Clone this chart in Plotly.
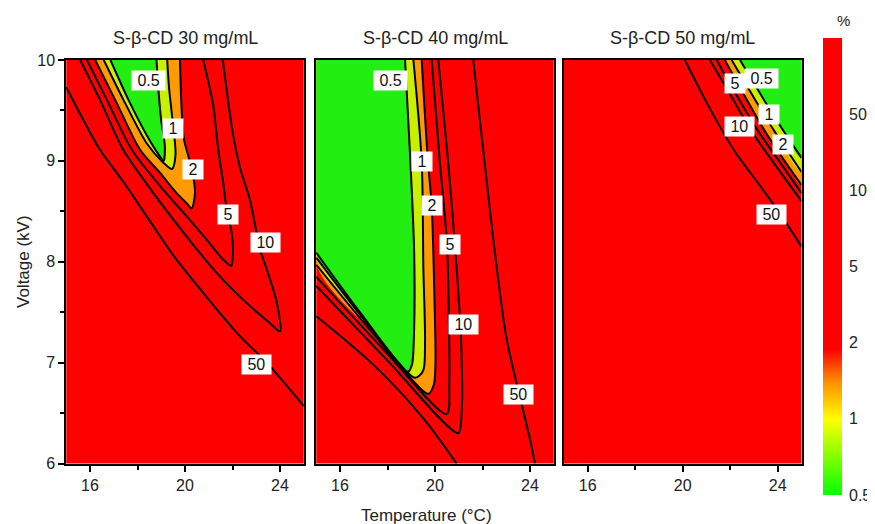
import plotly.graph_objects as go

# ---------------- data (Temperature °C, Voltage kV) ----------------
panel_titles = ["S-β-CD 30 mg/mL", "S-β-CD 40 mg/mL", "S-β-CD 50 mg/mL"]
level_labels = ["0.5", "1", "2", "5", "10", "50"]
colorbar_ticks = ["0.5", "1", "2", "5", "10", "50"]
T_RANGE = [15, 25]
V_RANGE = [6, 10]

# Panel 1 (30 mg/mL): nested tongues opening to the top edge
p1_05_T = [16.86, 17.63, 18.40, 18.90, 19.10, 19.15, 19.00, 18.90, 18.80]
p1_05_V = [10.00, 9.60, 9.25, 9.06, 9.00, 9.15, 9.40, 9.65, 10.00]
p1_1_T = [16.58, 17.42, 18.40, 19.10, 19.45, 19.60, 19.48, 19.33, 19.25]
p1_1_V = [10.00, 9.60, 9.17, 8.98, 8.92, 9.06, 9.39, 9.72, 10.00]
p1_2_T = [16.22, 17.07, 18.11, 18.95, 19.65, 20.07, 20.28, 20.42, 20.35, 20.15, 19.95, 19.85, 19.79]
p1_2_V = [10.00, 9.60, 9.11, 8.88, 8.68, 8.58, 8.53, 8.68, 8.84, 9.04, 9.22, 9.55, 10.00]
p1_5_T = [15.87, 16.72, 17.76, 18.95, 20.07, 20.91, 21.61, 21.95, 22.02, 21.97, 21.76, 21.61, 21.40, 21.19, 20.77]
p1_5_V = [10.00, 9.60, 9.11, 8.75, 8.45, 8.22, 8.02, 7.96, 8.10, 8.28, 8.51, 8.78, 9.11, 9.55, 10.00]
p1_10_T = [15.59, 16.43, 17.40, 18.67, 20.07, 21.33, 22.60, 23.58, 24.00, 23.87, 23.45, 23.16, 22.74, 22.32, 22.01, 21.59]
p1_10_V = [10.00, 9.60, 9.11, 8.68, 8.25, 7.89, 7.59, 7.39, 7.31, 7.59, 7.92, 8.12, 8.61, 8.93, 9.28, 10.00]
p1_50_T = [15.00, 16.42, 17.35, 18.53, 19.58, 20.84, 22.32, 23.44, 25.00]
p1_50_V = [9.73, 9.11, 8.81, 8.40, 8.04, 7.67, 7.26, 7.00, 6.57]
p1_label_T = [18.46, 19.51, 20.35, 21.82, 23.37, 23.02]
p1_label_V = [9.80, 9.32, 8.91, 8.47, 8.19, 6.98]

# Panel 2 (40 mg/mL): right branch from top edge, tip, left branch to left edge
p2_05_T = [18.74, 18.95, 19.12, 19.12, 19.03, 18.86, 16.90, 15.00]
p2_05_V = [10.00, 9.06, 8.12, 7.33, 6.98, 6.91, 7.48, 8.09]
p2_1_T = [19.09, 19.44, 19.51, 19.58, 19.50, 19.16, 17.10, 15.00]
p2_1_V = [10.00, 8.99, 7.94, 7.20, 6.92, 6.85, 7.40, 8.04]
p2_2_T = [19.44, 19.70, 19.86, 19.98, 20.02, 19.95, 19.72, 17.35, 15.00]
p2_2_V = [10.00, 9.00, 8.56, 7.60, 7.00, 6.78, 6.69, 7.30, 7.97]
p2_5_T = [19.86, 20.20, 20.50, 20.58, 20.60, 20.49, 17.75, 15.00]
p2_5_V = [10.00, 9.00, 8.20, 7.50, 6.80, 6.49, 7.15, 7.85]
p2_10_T = [20.14, 20.55, 20.91, 21.10, 21.12, 20.98, 18.00, 15.00]
p2_10_V = [10.00, 9.00, 7.94, 7.20, 6.50, 6.30, 7.02, 7.76]
p2_50L_T = [15.00, 17.40, 19.50, 20.91]
p2_50L_V = [7.46, 6.98, 6.45, 6.00]
p2_50R_T = [21.61, 22.60, 23.02, 24.00, 24.21]
p2_50R_V = [10.00, 7.94, 7.23, 6.24, 6.00]
p2_label_T = [18.11, 19.44, 19.86, 20.63, 21.19, 23.51]
p2_label_V = [9.80, 8.99, 8.56, 8.17, 7.38, 6.68]

# Panel 3 (50 mg/mL): diagonal contours from top edge to right edge
p3_05_T = [22.41, 23.93, 25.00]
p3_05_V = [10.00, 9.41, 9.03]
p3_1_T = [22.06, 23.68, 25.00]
p3_1_V = [10.00, 9.36, 8.89]
p3_2_T = [21.77, 23.47, 24.40, 25.00]
p3_2_V = [10.00, 9.29, 8.96, 8.76]
p3_5_T = [21.43, 21.78, 23.19, 24.17, 25.00]
p3_5_V = [10.00, 9.85, 9.29, 8.96, 8.68]
p3_10_T = [21.14, 21.92, 22.91, 23.89, 25.00]
p3_10_V = [10.00, 9.69, 9.29, 8.96, 8.60]
p3_50_T = [20.09, 21.07, 22.20, 23.33, 24.31, 25.00]
p3_50_V = [10.00, 9.55, 9.09, 8.73, 8.40, 8.15]
p3_label_T = [23.33, 23.64, 24.24, 22.20, 22.41, 23.75]
p3_label_V = [9.82, 9.46, 9.16, 9.77, 9.34, 8.47]

# colour bar: equally spaced level positions (bottom value 0, top value 6)
cb_pos = [0, 6]

# ---------------- styling ----------------
FONT = "Liberation Sans, Arial, sans-serif"
RED = "#ff0000"
ORANGE = "#ff9a00"
YGREEN = "#c8f000"
GREEN = "#22ee11"
LINE = dict(color="black", width=2, shape="spline", smoothing=0.8)

fig = go.Figure()


def region(xa, ya, T, V, closeT, closeV, color):
    fig.add_trace(go.Scatter(
        x=list(T) + list(closeT), y=list(V) + list(closeV), mode="lines",
        fill="toself", fillcolor=color,
        line=dict(width=0, shape="spline", smoothing=0.8),
        hoverinfo="skip", showlegend=False, xaxis=xa, yaxis=ya))


def cline(xa, ya, T, V):
    fig.add_trace(go.Scatter(
        x=T, y=V, mode="lines", line=LINE, hoverinfo="skip",
        showlegend=False, xaxis=xa, yaxis=ya))


# Panel 1
region("x", "y", p1_2_T, p1_2_V, [], [], ORANGE)
region("x", "y", p1_1_T, p1_1_V, [], [], YGREEN)
region("x", "y", p1_05_T, p1_05_V, [], [], GREEN)
for T, V in [(p1_05_T, p1_05_V), (p1_1_T, p1_1_V), (p1_2_T, p1_2_V),
             (p1_5_T, p1_5_V), (p1_10_T, p1_10_V), (p1_50_T, p1_50_V)]:
    cline("x", "y", T, V)

# Panel 2
corner2 = ([T_RANGE[0]], [V_RANGE[1]])
region("x2", "y2", p2_2_T, p2_2_V, *corner2, ORANGE)
region("x2", "y2", p2_1_T, p2_1_V, *corner2, YGREEN)
region("x2", "y2", p2_05_T, p2_05_V, *corner2, GREEN)
for T, V in [(p2_05_T, p2_05_V), (p2_1_T, p2_1_V), (p2_2_T, p2_2_V),
             (p2_5_T, p2_5_V), (p2_10_T, p2_10_V), (p2_50L_T, p2_50L_V),
             (p2_50R_T, p2_50R_V)]:
    cline("x2", "y2", T, V)

# Panel 3
corner3 = ([T_RANGE[1]], [V_RANGE[1]])
region("x3", "y3", p3_2_T, p3_2_V, *corner3, ORANGE)
region("x3", "y3", p3_1_T, p3_1_V, *corner3, YGREEN)
region("x3", "y3", p3_05_T, p3_05_V, *corner3, GREEN)
for T, V in [(p3_05_T, p3_05_V), (p3_1_T, p3_1_V), (p3_2_T, p3_2_V),
             (p3_5_T, p3_5_V), (p3_10_T, p3_10_V), (p3_50_T, p3_50_V)]:
    cline("x3", "y3", T, V)

# Colour bar drawn as a smooth heatmap on its own axes
cb_scale = [[0.0, "#00ff00"], [1 / 6, "#ffff00"], [0.25, "#ff8c00"],
            [0.32, RED], [1.0, RED]]
fig.add_trace(go.Heatmap(
    x=[0, 1], y=cb_pos, z=[[cb_pos[0], cb_pos[0]], [cb_pos[1], cb_pos[1]]],
    zmin=cb_pos[0], zmax=cb_pos[1], zsmooth="best", colorscale=cb_scale,
    showscale=False, hoverinfo="skip", xaxis="x4", yaxis="y4"))

# ---------------- layout ----------------
# browser body offset of 8 px is compensated
OFF = 8
W = 875 - OFF
H = 524 - OFF


def fx(px):
    return (px - OFF) / W


def fy(py):
    return 1 - (py - OFF) / H


ydom = [fy(463.5), fy(60)]
xdoms = [[fx(66.25), fx(303.75)], [fx(316.25), fx(553.75)], [fx(564), fx(801.5)]]
TICKFONT = dict(size=16, color="#222", family=FONT)

common_x = dict(range=T_RANGE, tickvals=[16, 20, 24], ticks="outside", ticklen=6,
                tickwidth=1.5, tickcolor="black", showline=True, mirror=True,
                linecolor="black", linewidth=2, showgrid=False, zeroline=False,
                automargin=False,
                minor=dict(tickvals=[18, 22], ticks="outside", ticklen=4,
                           tickwidth=1.5, tickcolor="black"),
                tickfont=TICKFONT)

layout = dict(template="none", width=W, height=H, autosize=False,
              margin=dict(l=0, r=0, t=0, b=0, pad=0),
              paper_bgcolor="white", plot_bgcolor=RED, showlegend=False,
              font=dict(family=FONT, color="#222"))
for i, dom in enumerate(xdoms):
    sx = "" if i == 0 else str(i + 1)
    xa = dict(common_x, domain=dom, anchor="y" + sx)
    ya = dict(range=V_RANGE, domain=ydom, anchor="x" + sx, showline=True, mirror=True,
              linecolor="black", linewidth=2, showgrid=False, zeroline=False,
              automargin=False)
    if i == 0:
        ya.update(tickvals=[6, 7, 8, 9, 10], ticks="outside", ticklen=6, tickwidth=1.5,
                  tickcolor="black",
                  minor=dict(tickvals=[6.5, 7.5, 8.5, 9.5], ticks="outside", ticklen=4,
                             tickwidth=1.5, tickcolor="black"),
                  tickfont=TICKFONT)
    else:
        ya.update(showticklabels=False, ticks="")
    layout["xaxis" + sx] = xa
    layout["yaxis" + sx] = ya

layout["xaxis4"] = dict(domain=[fx(823), fx(842)], range=[0, 1], anchor="y4",
                        visible=False, fixedrange=True, automargin=False)
layout["yaxis4"] = dict(domain=[fy(495), fy(38)], range=cb_pos, anchor="x4", side="right",
                        tickvals=list(range(len(colorbar_ticks))), ticktext=colorbar_ticks,
                        ticks="", showline=False, showgrid=False, zeroline=False,
                        automargin=False, ticklabelstandoff=6, tickfont=TICKFONT)
fig.update_layout(**layout)

ann = []
for i, title in enumerate(panel_titles):
    ann.append(dict(text=title, x=(xdoms[i][0] + xdoms[i][1]) / 2, y=fy(38),
                    font=dict(size=18, color="#222")))
ann.append(dict(text="Voltage (kV)", x=fx(23), y=fy(262), textangle=-90,
                font=dict(size=17, color="#222")))
ann.append(dict(text="Temperature (°C)", x=fx(426), y=fy(515),
                font=dict(size=17, color="#222")))
ann.append(dict(text="%", x=fx(843), y=fy(20), font=dict(size=15, color="#222")))
for a in ann:
    a.update(xref="paper", yref="paper", xanchor="center", yanchor="middle",
             showarrow=False)

for sx, LT, LV in [("", p1_label_T, p1_label_V), ("2", p2_label_T, p2_label_V),
                   ("3", p3_label_T, p3_label_V)]:
    for txt, t, v in zip(level_labels, LT, LV):
        ann.append(dict(text="\u00a0" + txt + "\u00a0", x=t, y=v, xref="x" + sx,
                        yref="y" + sx, xanchor="center", yanchor="middle",
                        showarrow=False, bgcolor="white", borderpad=1,
                        font=dict(size=16, color="#111")))
fig.update_layout(annotations=ann)

fig.write_html("out.html")
